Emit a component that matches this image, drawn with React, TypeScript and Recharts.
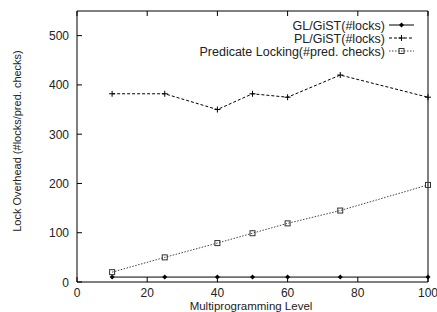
import { LineChart, Line, XAxis, YAxis } from "recharts"

// Multiprogramming level on the x axis
const levels = [10, 25, 40, 50, 60, 75, 100]
const glLocks = [10, 10, 10, 10, 10, 10, 10]
const plLocks = [382, 382, 350, 382, 375, 420, 375]
const predChecks = [20, 50, 79, 99, 119, 145, 197]

const xTicks = [0, 20, 40, 60, 80, 100]
const yTicks = [0, 100, 200, 300, 400, 500]
const seriesNames = ["GL/GiST(#locks)", "PL/GiST(#locks)", "Predicate Locking(#pred. checks)"]

const data = levels.map((lvl, i) => ({
  level: lvl,
  gl: glLocks[i],
  pl: plLocks[i],
  pred: predChecks[i],
}))

const FONT = "'Liberation Sans', Arial, Helvetica, sans-serif"
const INK = "#222"

const BottomTick = (props: any) => {
  const { x, y, payload } = props
  return (
    <g>
      <line x1={x} y1={y} x2={x} y2={y - 5} stroke="#000" />
      <text x={x} y={y + 15} textAnchor="middle" fontSize={12} fontFamily={FONT} fill={INK}>
        {payload.value}
      </text>
    </g>
  )
}

const TopTick = (props: any) => {
  const { x, y } = props
  return <line x1={x} y1={y} x2={x} y2={y + 5} stroke="#000" />
}

const LeftTick = (props: any) => {
  const { x, y, payload } = props
  return (
    <g>
      <line x1={x} y1={y} x2={x + 5} y2={y} stroke="#000" />
      <text x={x - 8} y={y + 4.5} textAnchor="end" fontSize={12} fontFamily={FONT} fill={INK}>
        {payload.value}
      </text>
    </g>
  )
}

const RightTick = (props: any) => {
  const { x, y } = props
  return <line x1={x} y1={y} x2={x - 5} y2={y} stroke="#000" />
}

const diamond = (cx: number, cy: number, key?: any) => (
  <path key={key} d={`M${cx},${cy - 2.5}L${cx + 2.5},${cy}L${cx},${cy + 2.5}L${cx - 2.5},${cy}Z`} fill="#000" />
)
const plus = (cx: number, cy: number, key?: any) => (
  <path key={key} d={`M${cx - 3},${cy}H${cx + 3}M${cx},${cy - 3}V${cy + 3}`} stroke="#000" fill="none" />
)
const square = (cx: number, cy: number, key?: any) => (
  <rect key={key} x={cx - 2.5} y={cy - 2.5} width={5} height={5} fill="none" stroke="#333" strokeWidth={1} />
)

const seriesStyles = [
  { key: "gl", dash: undefined, color: "#000", marker: diamond },
  { key: "pl", dash: "3 2", color: "#000", marker: plus },
  { key: "pred", dash: "1.5 1.5", color: "#444", marker: square },
]

export default function App() {
  return (
    <div style={{ position: "absolute", left: 0, top: 0, width: 437, height: 312, background: "#fff" }}>
      <LineChart width={437} height={312} data={data} margin={{ top: 10, right: 8, bottom: 29, left: 76 }}>
        <XAxis
          xAxisId="b"
          dataKey="level"
          type="number"
          domain={[0, 100]}
          ticks={xTicks}
          interval={0}
          tickSize={0}
          tickMargin={0}
          height={1}
          axisLine={{ stroke: "#000" }}
          tickLine={false}
          tick={<BottomTick />}
        />
        <XAxis
          xAxisId="t"
          orientation="top"
          dataKey="level"
          type="number"
          domain={[0, 100]}
          ticks={xTicks}
          interval={0}
          tickSize={0}
          tickMargin={0}
          height={1}
          axisLine={{ stroke: "#000" }}
          tickLine={false}
          tick={<TopTick />}
        />
        <YAxis
          yAxisId="l"
          type="number"
          domain={[0, 550]}
          ticks={yTicks}
          interval={0}
          tickSize={0}
          tickMargin={0}
          width={1}
          axisLine={{ stroke: "#000" }}
          tickLine={false}
          tick={<LeftTick />}
        />
        <YAxis
          yAxisId="r"
          orientation="right"
          type="number"
          domain={[0, 550]}
          ticks={yTicks}
          interval={0}
          tickSize={0}
          tickMargin={0}
          width={1}
          axisLine={{ stroke: "#000" }}
          tickLine={false}
          tick={<RightTick />}
        />
        {seriesStyles.map((s, i) => (
          <Line
            key={s.key}
            xAxisId="b"
            yAxisId="l"
            dataKey={s.key}
            name={seriesNames[i]}
            type="linear"
            stroke={s.color}
            strokeWidth={1}
            strokeDasharray={s.dash}
            isAnimationActive={false}
            dot={(p: any) => s.marker(p.cx, p.cy, `${s.key}-${p.index}`)}
            activeDot={false}
          />
        ))}
      </LineChart>

      <svg width={437} height={312} style={{ position: "absolute", left: 0, top: 0, pointerEvents: "none" }}>
        {seriesNames.map((name, i) => {
          const y = 25 + i * 13
          const s = seriesStyles[i]
          return (
            <g key={name}>
              <text x={385} y={y + 4.5} textAnchor="end" fontSize={12.5} fontFamily={FONT} fill={INK}>
                {name}
              </text>
              <line x1={389} y1={y} x2={414} y2={y} stroke={s.color} strokeDasharray={s.dash} />
              {s.marker(401.5, y)}
            </g>
          )
        })}
        <text x={251} y={310} textAnchor="middle" fontSize={11.5} fontFamily={FONT} fill={INK}>
          Multiprogramming Level
        </text>
        <text
          x={21}
          y={141}
          transform="rotate(-90 21 141)"
          textAnchor="middle"
          fontSize={11}
          fontFamily={FONT}
          fill={INK}
        >
          Lock Overhead (#locks/pred. checks)
        </text>
      </svg>
    </div>
  )
}
